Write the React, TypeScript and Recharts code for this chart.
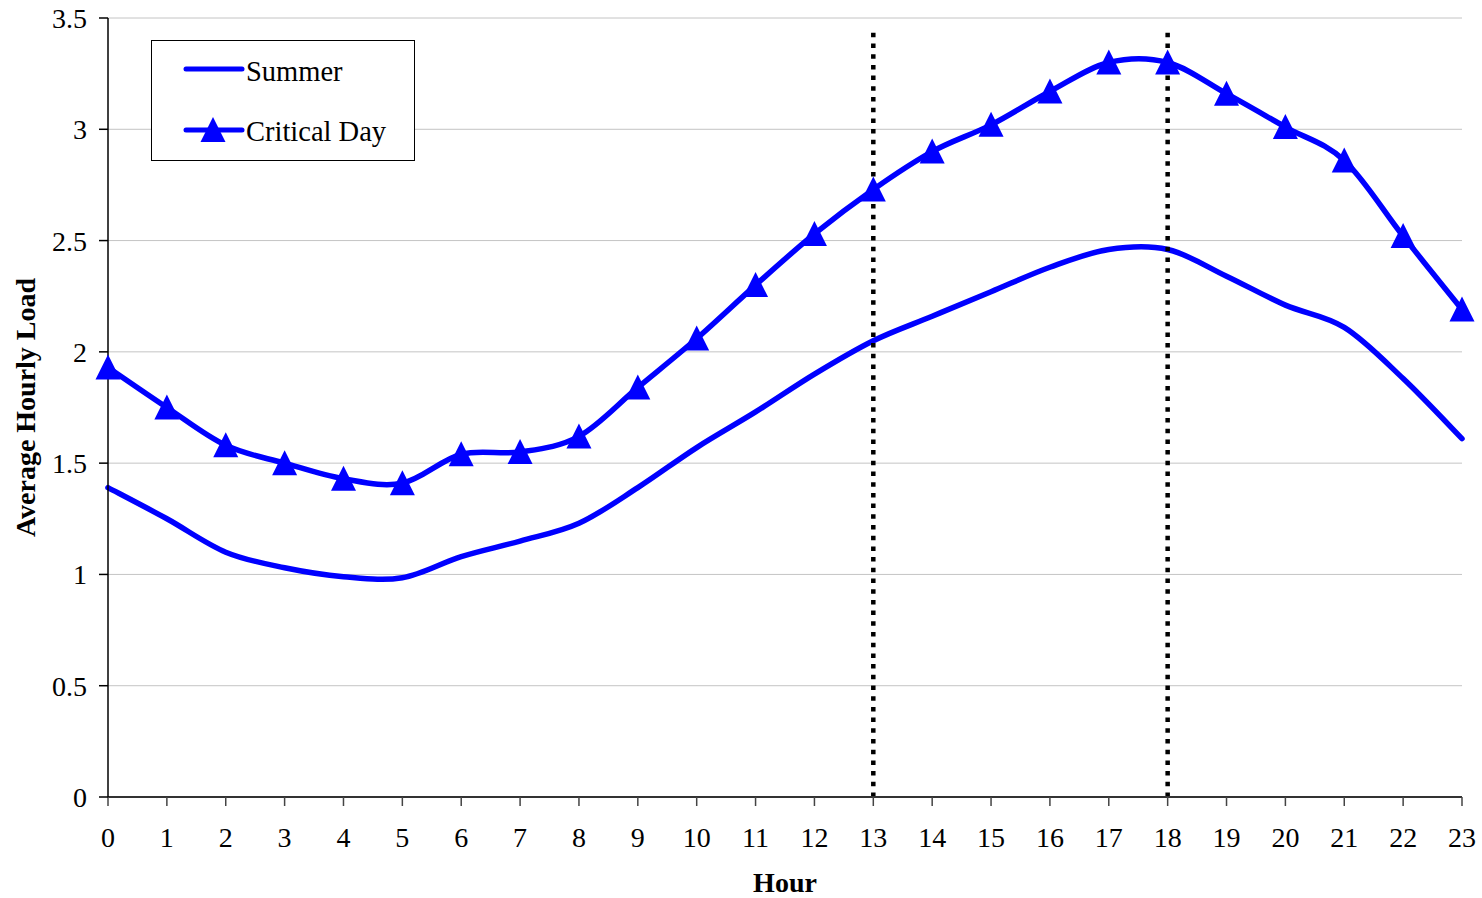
import { LineChart, Line, XAxis, YAxis, CartesianGrid, ReferenceLine, Legend } from 'recharts';

const hours = [0, 1, 2, 3, 4, 5, 6, 7, 8, 9, 10, 11, 12, 13, 14, 15, 16, 17, 18, 19, 20, 21, 22, 23];
const summer = [1.39, 1.25, 1.1, 1.03, 0.99, 0.985, 1.08, 1.15, 1.23, 1.39, 1.57, 1.73, 1.9, 2.05, 2.16, 2.27, 2.38, 2.46, 2.46, 2.34, 2.21, 2.11, 1.88, 1.61];
const criticalDay = [1.93, 1.75, 1.58, 1.5, 1.43, 1.41, 1.54, 1.55, 1.62, 1.84, 2.06, 2.3, 2.53, 2.73, 2.9, 3.02, 3.17, 3.3, 3.3, 3.16, 3.01, 2.86, 2.52, 2.19];
const yTicks = [0, 0.5, 1, 1.5, 2, 2.5, 3, 3.5];
const peakWindow = [13, 18];

const data = hours.map((h, i) => ({ hour: h, summer: summer[i], critical: criticalDay[i] }));

const FONT = "'Times New Roman', 'Liberation Serif', serif";
const BLUE = '#0000ff';

// Excel-like smoothing (Catmull-Rom through every point)
function smoothCurve(context: any) {
  let pts: number[][] = [];
  return {
    areaStart() {},
    areaEnd() {},
    lineStart() {
      pts = [];
    },
    point(x: number, y: number) {
      pts.push([+x, +y]);
    },
    lineEnd() {
      const n = pts.length;
      if (!n) return;
      context.moveTo(pts[0][0], pts[0][1]);
      for (let i = 0; i < n - 1; i++) {
        const p0 = pts[Math.max(i - 1, 0)];
        const p1 = pts[i];
        const p2 = pts[i + 1];
        const p3 = pts[Math.min(i + 2, n - 1)];
        context.bezierCurveTo(
          p1[0] + (p2[0] - p0[0]) / 6,
          p1[1] + (p2[1] - p0[1]) / 6,
          p2[0] - (p3[0] - p1[0]) / 6,
          p2[1] - (p3[1] - p1[1]) / 6,
          p2[0],
          p2[1],
        );
      }
    },
  };
}

function triangle(cx: number, cy: number) {
  return `M${cx},${cy - 13} L${cx + 12.5},${cy + 12} L${cx - 12.5},${cy + 12} Z`;
}

const TriangleDot = (props: any) => {
  const { cx, cy, index } = props;
  if (cx == null || cy == null) return <g key={`t-${index}`} />;
  return <path key={`t-${index}`} d={triangle(cx, cy)} fill={BLUE} />;
};

const renderLegend = () => (
  <div
    style={{
      width: 264,
      height: 121,
      border: '1px solid #000',
      background: '#fff',
      boxSizing: 'border-box',
    }}
  >
    <svg width={262} height={119} style={{ display: 'block' }}>
      <line x1={34} y1={28} x2={90} y2={28} stroke={BLUE} strokeWidth={5} strokeLinecap="round" />
      <text x={94} y={40} fontFamily={FONT} fontSize={28.5} fill="#000">
        Summer
      </text>
      <line x1={34} y1={89} x2={90} y2={89} stroke={BLUE} strokeWidth={5} strokeLinecap="round" />
      <path d={triangle(61, 89)} fill={BLUE} />
      <text x={94} y={100} fontFamily={FONT} fontSize={28.5} fill="#000">
        Critical Day
      </text>
    </svg>
  </div>
);

export default function App() {
  return (
    <div style={{ width: 1482, height: 898, background: '#fff' }}>
      <style>{'body{margin:0;}'}</style>
      <LineChart
        width={1482}
        height={898}
        data={data}
        margin={{ top: 18, right: 20, bottom: 0, left: 0 }}
        style={{ fontFamily: FONT }}
      >
        <CartesianGrid vertical={false} stroke="#c4c4c4" strokeWidth={1} />
        <XAxis
          dataKey="hour"
          type="number"
          domain={[0, 23]}
          ticks={hours}
          interval={0}
          height={101}
          stroke="#333"
          strokeWidth={2}
          tickSize={9}
          tickMargin={21}
          tick={{ fontSize: 28, fill: '#000', fontFamily: FONT }}
          tickLine={{ stroke: '#444', strokeWidth: 1.5 }}
          label={({ viewBox }: any) => (
            <text
              x={viewBox.x + viewBox.width / 2}
              y={viewBox.y + 95}
              textAnchor="middle"
              fontFamily={FONT}
              fontSize={28}
              fontWeight="bold"
              fill="#000"
            >
              Hour
            </text>
          )}
        />
        <XAxis xAxisId="top" orientation="top" type="number" domain={[0, 23]} height={0} tick={false} tickLine={false} stroke="#888" strokeWidth={2} />
        <YAxis
          type="number"
          domain={[0, 3.5]}
          ticks={yTicks}
          interval={0}
          width={108}
          stroke="#000"
          strokeWidth={1.5}
          tickSize={9}
          tickMargin={12}
          tick={{ fontSize: 28, fill: '#000', fontFamily: FONT }}
          tickLine={{ stroke: '#000', strokeWidth: 1.5 }}
          label={({ viewBox }: any) => {
            const x = viewBox.x + 25;
            const y = viewBox.y + viewBox.height / 2;
            return (
              <text
                x={x}
                y={y}
                transform={`rotate(-90 ${x} ${y})`}
                textAnchor="middle"
                dominantBaseline="central"
                fontFamily={FONT}
                fontSize={28}
                fontWeight="bold"
                fill="#000"
              >
                Average Hourly Load
              </text>
            );
          }}
        />
        <YAxis yAxisId="right" orientation="right" type="number" domain={[0, 3.5]} width={0} tick={false} tickLine={false} stroke="#888" strokeWidth={2} />
        <Line
          dataKey="summer"
          type={smoothCurve as any}
          stroke={BLUE}
          strokeWidth={5.5}
          strokeLinecap="round"
          dot={false}
          activeDot={false}
          isAnimationActive={false}
        />
        <Line
          dataKey="critical"
          type={smoothCurve as any}
          stroke={BLUE}
          strokeWidth={5.5}
          strokeLinecap="round"
          dot={TriangleDot}
          activeDot={false}
          isAnimationActive={false}
        />
        {peakWindow.map((h) => (
          <ReferenceLine
            key={h}
            segment={[
              { x: h, y: 0 },
              { x: h, y: 3.46 },
            ]}
            stroke="#000"
            strokeWidth={4.5}
            strokeDasharray="4.5 6.2"
          />
        ))}
        <Legend
          layout="vertical"
          align="center"
          verticalAlign="middle"
          content={renderLegend}
          wrapperStyle={{ left: 151, top: 40, width: 264, height: 121 }}
        />
      </LineChart>
    </div>
  );
}
